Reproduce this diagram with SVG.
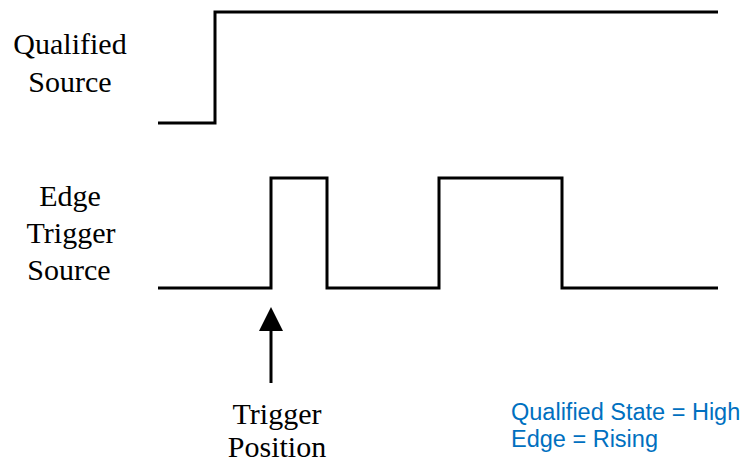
<svg xmlns="http://www.w3.org/2000/svg" width="743" height="464" viewBox="0 0 743 464">
<defs>
<style>
.sig{fill:none;stroke:#000;stroke-width:3;stroke-linejoin:miter}
.lbl{font-family:"Liberation Serif","Times New Roman",serif;font-size:30px;fill:#000;text-anchor:middle}
.note{font-family:"Liberation Sans",Arial,sans-serif;font-size:23.5px;fill:#0070C0}
</style>
</defs>
<rect width="743" height="464" fill="#fff"/>
<g id="qualified-source">
<text class="lbl" x="70" y="54">Qualified</text>
<text class="lbl" x="70" y="92">Source</text>
</g>
<g id="edge-trigger-source">
<text class="lbl" x="70" y="206">Edge</text>
<text class="lbl" x="71" y="243">Trigger</text>
<text class="lbl" x="69" y="280">Source</text>
</g>
<g id="trigger-position">
<text class="lbl" x="277" y="424">Trigger</text>
<text class="lbl" x="277" y="457">Position</text>
</g>
<g id="settings">
<text class="note" x="511" y="420">Qualified State = High</text>
<text class="note" x="511" y="447">Edge = Rising</text>
</g>
<g id="connectors">
<polyline id="qualified-wave" class="sig" points="158,123 215,123 215,12 718,12"/>
<polyline id="edge-wave" class="sig" points="158,288 271,288 271,178 327,178 327,288 439,288 439,178 562,178 562,288 718,288"/>
<line id="trigger-arrow" x1="271" y1="383" x2="271" y2="328" stroke="#000" stroke-width="3"/>
<polygon points="271,307 259,331 283,331" fill="#000"/>
</g>
</svg>
